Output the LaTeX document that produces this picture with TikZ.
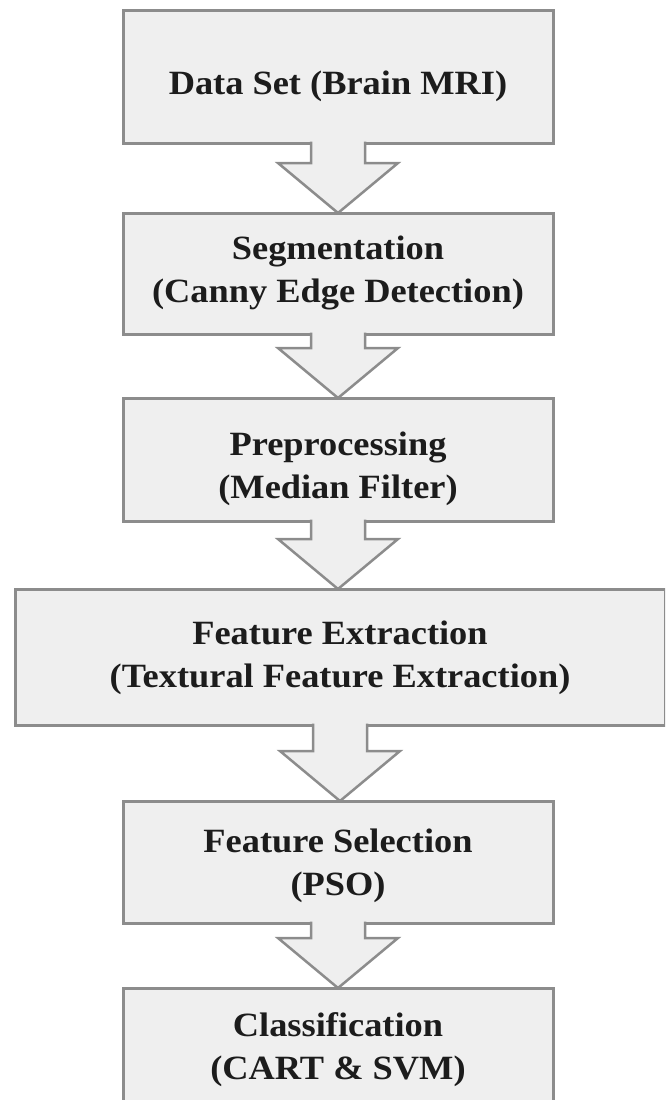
\documentclass[tikz,border=0pt]{standalone}
\usepackage{fontspec}
\setmainfont{Liberation Serif}[FakeStretch=1.07]
\usetikzlibrary{calc}

\definecolor{boxfill}{HTML}{EFEFEF}
\definecolor{boxline}{HTML}{8C8C8C}
\definecolor{boxtext}{HTML}{1C1C1C}

\tikzset{
  stage/.style={draw=boxline, line width=3pt, fill=boxfill, outer sep=0pt,
    inner sep=0pt, minimum width=430pt},
  stagetext/.style={align=center, inner sep=0pt, text=boxtext,
    font=\fontsize{34}{43}\selectfont\bfseries},
  flowline/.style={draw=boxline, line width=2.5pt, line join=miter},
}

% fat arrow from the bottom of #1 to the top of #2
\newcommand{\flowarrow}[2]{%
  \coordinate (tip) at (#1.south |- #2.north);
  \fill[boxfill] ($(#1.south)+(-27,-3)$) -- ($(tip)+(-27,-50)$) -- ($(tip)+(-60,-50)$)
    -- (tip) -- ($(tip)+(60,-50)$) -- ($(tip)+(27,-50)$) -- ($(#1.south)+(27,-3)$) -- cycle;
  \draw[flowline] ($(#1.south)+(-27,-1.5)$) -- ($(tip)+(-27,-50)$) -- ($(tip)+(-60,-50)$)
    -- (tip) -- ($(tip)+(60,-50)$) -- ($(tip)+(27,-50)$) -- ($(#1.south)+(27,-1.5)$);
}

\begin{document}
\begin{tikzpicture}[x=1pt, y=-1pt]
\clip (0,0) rectangle (665,1100);

\node[stage, minimum height=133pt] (data) at (338,76.5) {};
\node[stagetext] (data-t) at (338,86) {Data Set (Brain MRI)};

\node[stage, minimum height=121pt] (seg) at (338,273.5) {};
\node[stagetext] (seg-t) at (338,273) {Segmentation\\(Canny Edge Detection)};

\node[stage, minimum height=123pt] (pre) at (338,459.5) {};
\node[stagetext] (pre-t) at (338,469) {Preprocessing\\(Median Filter)};

\node[stage, minimum width=650pt, minimum height=136pt] (feat) at (340,657) {};
\node[stagetext] (feat-t) at (340,658) {Feature Extraction\\(Textural Feature Extraction)};

\node[stage, minimum height=122pt] (sel) at (338,862) {};
\node[stagetext] (sel-t) at (338,866) {Feature Selection\\(PSO)};

\node[stage, minimum height=130pt] (cls) at (338,1053) {};
\node[stagetext] (cls-t) at (338,1050) {Classification\\(CART \& SVM)};

\flowarrow{data}{seg}
\flowarrow{seg}{pre}
\flowarrow{pre}{feat}
\flowarrow{feat}{sel}
\flowarrow{sel}{cls}

\end{tikzpicture}
\end{document}
